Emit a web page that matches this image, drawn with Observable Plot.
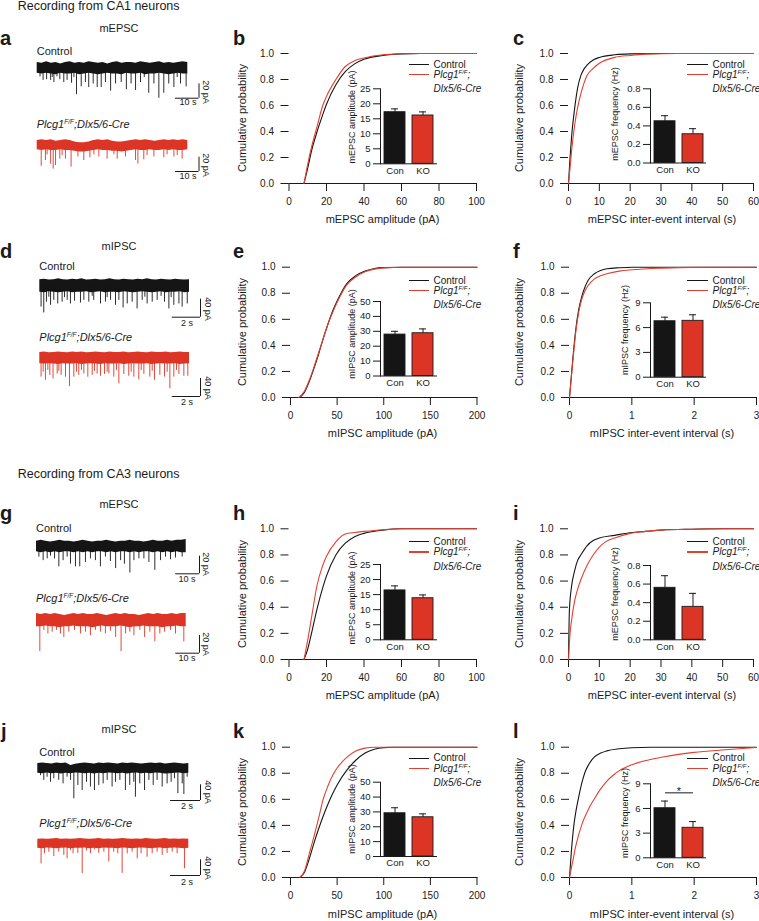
<!DOCTYPE html>
<html><head><meta charset="utf-8">
<script src="https://cdn.jsdelivr.net/npm/d3@7"></script>
<script src="https://cdn.jsdelivr.net/npm/@observablehq/plot@0.6"></script>
<style>
body{margin:0;background:#fff;}
#fig{position:relative;width:759px;height:921px;overflow:hidden;font-family:"Liberation Sans",Arial,Helvetica,sans-serif;color:#1a1a1a;background:#fff;}
#fig > svg{position:absolute;left:0;top:0;}
.t{position:absolute;white-space:nowrap;line-height:1;}
.sup{font-size:6.5px;position:relative;top:-4px;}
.lg{position:absolute;height:1.2px;}
</style></head><body><div id="fig"></div>
<script>
// ---------------- DATA ----------------
const groups = ["Con", "KO"];
const probTicks = [0, 0.2, 0.4, 0.6, 0.8, 1.0];
const epscAmpTicks = [0, 20, 40, 60, 80, 100];
const epscIeiTicks = [0, 10, 20, 30, 40, 50, 60];
const ipscAmpTicks = [0, 50, 100, 150, 200];
const ipscIeiTicks = [0, 1, 2, 3];

// cumulative distributions [value, probability]
const cdfB_ctrl = [[8,0],[10,0.12],[12,0.25],[15,0.4],[18,0.53],[20,0.61],[25,0.76],[30,0.86],[35,0.92],[40,0.955],[50,0.985],[60,0.997],[70,1],[100,1]];
const cdfB_ko   = [[8,0],[10,0.15],[12,0.28],[15,0.44],[18,0.6],[20,0.67],[25,0.8],[30,0.9],[35,0.945],[40,0.965],[50,0.99],[60,0.998],[70,1],[100,1]];
const cdfC_ctrl = [[0,0],[0.5,0.2],[1,0.36],[2,0.58],[3,0.74],[4,0.83],[5,0.88],[6,0.91],[8,0.95],[10,0.97],[15,0.99],[20,0.997],[30,1],[60,1]];
const cdfC_ko   = [[0,0],[0.5,0.12],[1,0.25],[2,0.45],[3,0.59],[4,0.69],[5,0.77],[6,0.83],[8,0.885],[10,0.925],[15,0.97],[20,0.985],[25,0.995],[35,1],[60,1]];
const cdfE_ctrl = [[10,0],[15,0.04],[20,0.12],[25,0.22],[30,0.33],[35,0.45],[40,0.56],[45,0.66],[50,0.74],[60,0.87],[70,0.935],[80,0.97],[90,0.99],[100,0.997],[120,1],[200,1]];
const cdfE_ko   = [[9,0],[15,0.05],[20,0.13],[25,0.23],[30,0.34],[35,0.45],[40,0.56],[45,0.65],[50,0.73],[60,0.86],[70,0.925],[80,0.965],[90,0.985],[100,0.995],[120,1],[200,1]];
const cdfF_ctrl = [[0,0],[0.05,0.28],[0.1,0.52],[0.15,0.68],[0.2,0.78],[0.25,0.85],[0.3,0.9],[0.4,0.95],[0.5,0.975],[0.6,0.988],[0.8,0.996],[1,1],[3,1]];
const cdfF_ko   = [[0,0],[0.05,0.26],[0.1,0.5],[0.15,0.66],[0.2,0.76],[0.25,0.82],[0.3,0.86],[0.4,0.91],[0.5,0.935],[0.6,0.95],[0.8,0.97],[1,0.98],[1.5,0.993],[2,0.999],[2.5,1],[3,1]];
const cdfH_ctrl = [[8,0],[10,0.08],[12,0.2],[15,0.39],[18,0.55],[20,0.64],[25,0.8],[30,0.89],[35,0.94],[40,0.965],[50,0.99],[60,1],[100,1]];
const cdfH_ko   = [[8,0],[10,0.15],[12,0.32],[15,0.57],[18,0.72],[20,0.79],[25,0.9],[30,0.96],[35,0.972],[40,0.98],[50,0.993],[60,1],[100,1]];
const cdfI_ctrl = [[0,0],[0.3,0.38],[1,0.56],[2,0.68],[3,0.76],[4,0.8],[6,0.87],[8,0.91],[10,0.93],[15,0.95],[20,0.97],[25,0.98],[30,0.99],[40,0.997],[50,1],[60,1]];
const cdfI_ko   = [[0,0],[0.5,0.2],[1,0.3],[2,0.45],[3,0.54],[4,0.61],[6,0.72],[8,0.8],[10,0.86],[12,0.9],[15,0.93],[20,0.965],[25,0.98],[30,0.99],[40,0.997],[50,1],[60,1]];
const cdfK_ctrl = [[10,0],[15,0.04],[20,0.14],[25,0.26],[30,0.37],[35,0.47],[40,0.56],[45,0.64],[50,0.71],[60,0.82],[70,0.9],[80,0.955],[90,0.985],[100,0.997],[110,1],[200,1]];
const cdfK_ko   = [[10,0],[15,0.05],[20,0.18],[25,0.31],[30,0.45],[35,0.6],[40,0.7],[45,0.78],[50,0.84],[60,0.92],[70,0.97],[80,0.993],[90,1],[200,1]];
const cdfL_ctrl = [[0,0],[0.03,0.2],[0.07,0.4],[0.1,0.5],[0.14,0.6],[0.2,0.73],[0.25,0.81],[0.3,0.86],[0.4,0.925],[0.5,0.955],[0.6,0.972],[0.8,0.988],[1,0.996],[1.3,1],[3,1]];
const cdfL_ko   = [[0,0],[0.05,0.12],[0.1,0.24],[0.2,0.41],[0.3,0.52],[0.4,0.605],[0.5,0.68],[0.6,0.74],[0.7,0.785],[0.8,0.82],[1,0.865],[1.25,0.9],[1.5,0.925],[1.75,0.945],[2,0.96],[2.5,0.98],[3,0.998]];

// inset bar graphs: mean and SEM for [Con, KO]
const insetB_mean = [17.2, 16.1],  insetB_sem = [1.1, 1.2];
const insetC_mean = [0.45, 0.31],  insetC_sem = [0.06, 0.06];
const insetE_mean = [27.8, 28.7],  insetE_sem = [2.2, 2.9];
const insetF_mean = [6.77, 6.82],  insetF_sem = [0.49, 0.73];
const insetH_mean = [16.4, 13.8],  insetH_sem = [1.5, 1.1];
const insetI_mean = [0.56, 0.355], insetI_sem = [0.13, 0.145];
const insetK_mean = [29.1, 26.4],  insetK_sem = [3.7, 2.3];
const insetL_mean = [6.03, 3.65],  insetL_sem = [0.87, 0.75];
const insetL_sig = {from: "Con", to: "KO", level: 7.9, text: "*"};
const ampTicksE = [0, 5, 10, 15, 20, 25];
const freqTicksE = [0, 0.2, 0.4, 0.6, 0.8];
const ampTicksI = [0, 10, 20, 30, 40, 50];
const freqTicksI = [0, 3, 6, 9];

// example traces: duration (s), scale bars, noise envelope (pA), events [time s, peak pA]
const traceDurA = 64, traceDurD = 10.6, traceDurG = 63, traceDurJ = 10.1;
const scaleBarEPSC = {time: 10, amp: 20, timeLabel: "10 s", ampLabel: "20 pA"};
const scaleBarIPSC = {time: 2, amp: 40, timeLabel: "2 s", ampLabel: "40 pA"};

const traceA_ctrl_hi = [8,7,9,7,8,6,8,9,7,8,7,9,8,7,8,6,8,9,7,8,8,7,9,8,7,8,9,7,8,7,8,9,8];
const traceA_ctrl_lo = [-7,-8,-7,-8,-9,-7,-8,-8,-7,-9,-8,-7,-8,-9,-8,-7,-8,-8,-9,-7,-8,-8,-7,-9,-8,-8,-7,-8,-9,-8,-7,-8,-8];
const traceA_ctrl_events = [[1.2,-12],[2.5,-17],[4.0,-16],[5.7,-17],[6.4,-13],[7.1,-20],[8.4,-12],[9.6,-16],[11.3,-20],[12.7,-17],[14.6,-21],[15.6,-13],[16.7,-37],[18.7,-26],[20.5,-20],[21.9,-27],[23.8,-22],[25.5,-27],[27.2,-27],[29.0,-20],[31.2,-32],[33.3,-22],[35.7,-20],[37.9,-30],[39.9,-22],[41.8,-31],[43.9,-20],[45.5,-13],[47.4,-35],[49.6,-22],[51.7,-42],[53.8,-35],[55.9,-22],[58.1,-27],[59.5,-13],[60.9,-22],[63.3,-26]];
const traceA_ko_hi = [7,8,7,8,6,7,8,7,5,4,4,5,7,8,7,8,6,5,5,6,7,8,7,8,7,6,7,8,7,8,7,8,7];
const traceA_ko_lo = [-6,-7,-6,-7,-7,-6,-7,-7,-8,-9,-9,-8,-7,-6,-7,-7,-8,-8,-9,-8,-7,-6,-7,-7,-6,-7,-7,-6,-7,-6,-7,-7,-6];
const traceA_ko_events = [[1.7,-29],[3.5,-21],[4.2,-13],[5.7,-26],[6.8,-33],[7.8,-28],[9.6,-19],[10.6,-14],[12.0,-19],[14.4,-30],[17.3,-16],[19.8,-21],[22.4,-17],[24.1,-13],[26.2,-16],[29.7,-19],[32.6,-13],[34.0,-19],[37.5,-16],[41.8,-21],[42.8,-26],[45.3,-20],[46.7,-14],[49.6,-16],[53.8,-17],[55.2,-13],[58.1,-16],[59.5,-14],[61.6,-19]];

const traceD_ctrl_hi = [13,14,12,13,15,13,12,14,13,15,12,13,14,12,13,15,13,12,14,13,12,14,13,15,13,12,14,13,12,14,13,12,13];
const traceD_ctrl_lo = [-15,-16,-14,-15,-16,-15,-14,-16,-15,-15,-14,-16,-15,-14,-16,-15,-15,-16,-14,-15,-16,-15,-14,-15,-16,-15,-14,-16,-15,-15,-14,-16,-15];
const traceD_ctrl_events = [[0.09,-48],[0.28,-61],[0.47,-37],[0.64,-26],[0.76,-44],[0.99,-33],[1.27,-41],[1.58,-37],[1.75,-27],[1.94,-33],[2.17,-41],[2.46,-35],[2.88,-39],[3.12,-33],[3.47,-37],[3.71,-24],[3.82,-33],[4.30,-41],[4.65,-37],[4.77,-27],[5.01,-33],[5.36,-44],[5.60,-33],[5.90,-50],[6.19,-41],[6.54,-37],[6.89,-52],[7.25,-33],[7.44,-26],[7.60,-41],[7.96,-37],[8.31,-33],[8.59,-24],[8.83,-37],[9.14,-52],[9.30,-27],[9.49,-44],[9.85,-41],[10.08,-48],[10.44,-41]];
const traceD_ko_hi = [12,13,11,12,13,12,11,13,12,13,11,12,13,12,11,13,12,12,13,11,12,13,12,11,13,12,12,13,11,12,13,12,12];
const traceD_ko_lo = [-13,-14,-13,-14,-15,-13,-14,-14,-13,-15,-14,-13,-14,-15,-13,-14,-14,-13,-15,-14,-13,-14,-14,-13,-15,-14,-13,-14,-14,-13,-15,-14,-13];
const traceD_ko_events = [[0.09,-43],[0.24,-32],[0.40,-50],[0.57,-28],[0.71,-39],[0.94,-47],[1.23,-36],[1.35,-30],[1.51,-39],[1.82,-43],[2.10,-64],[2.41,-43],[2.60,-32],[2.76,-39],[2.95,-28],[3.12,-36],[3.40,-43],[3.71,-39],[3.87,-30],[4.06,-36],[4.30,-41],[4.58,-37],[4.77,-32],[4.89,-36],[5.24,-43],[5.43,-28],[5.60,-58],[5.95,-37],[6.30,-41],[6.47,-32],[6.66,-43],[7.01,-49],[7.18,-28],[7.37,-37],[7.79,-43],[7.96,-30],[8.12,-50],[8.50,-39],[8.83,-43],[9.02,-32],[9.21,-69],[9.49,-43],[9.68,-28],[9.85,-37],[10.20,-41],[10.48,-41]];

const traceG_ctrl_hi = [6,7,6,5,6,7,6,6,5,6,7,6,5,6,6,7,6,5,6,6,7,6,6,5,6,7,6,6,7,6,7,7,8];
const traceG_ctrl_lo = [-6,-7,-6,-7,-6,-7,-6,-6,-7,-6,-7,-6,-7,-6,-6,-7,-6,-7,-6,-6,-7,-6,-7,-6,-6,-7,-6,-7,-6,-7,-6,-7,-7];
const traceG_ctrl_events = [[1.0,-12],[2.8,-16],[4.5,-14],[5.9,-11],[7.6,-14],[9.4,-23],[11.2,-16],[12.9,-12],[14.3,-20],[16.4,-23],[18.2,-23],[20.6,-18],[22.7,-14],[24.8,-16],[26.9,-23],[29.0,-12],[31.1,-17],[33.3,-25],[35.4,-16],[37.0,-20],[39.3,-30],[41.0,-16],[43.1,-14],[45.2,-14],[47.3,-18],[49.8,-27],[52.2,-16],[54.3,-12],[56.4,-15],[58.5,-13],[61.3,-12]];
const traceG_ko_hi = [7,6,7,6,7,6,5,6,7,6,7,6,6,7,6,5,6,7,6,7,6,6,5,6,7,6,7,6,6,7,6,7,7];
const traceG_ko_lo = [-8,-8,-7,-8,-8,-9,-8,-8,-7,-8,-8,-8,-9,-8,-7,-8,-8,-8,-7,-8,-9,-8,-8,-7,-8,-8,-8,-9,-8,-8,-7,-8,-8];
const traceG_ko_events = [[1.4,-36],[3.1,-12],[4.8,-16],[6.6,-14],[8.4,-12],[10.1,-16],[11.5,-20],[13.6,-14],[16.0,-12],[18.5,-16],[20.6,-14],[22.7,-18],[24.8,-12],[26.9,-14],[29.0,-16],[31.1,-13],[33.3,-20],[35.6,-36],[37.5,-16],[39.3,-14],[41.0,-18],[43.5,-12],[45.5,-20],[47.7,-14],[49.8,-25],[51.9,-16],[53.9,-14],[56.4,-12],[58.5,-16],[62.0,-25]];

const traceJ_ctrl_hi = [11,12,11,10,12,11,12,6,9,11,12,11,10,12,11,12,11,10,12,11,12,11,10,11,12,11,12,10,11,12,11,10,11];
const traceJ_ctrl_lo = [-14,-15,-13,-15,-14,-16,-14,-15,-13,-14,-15,-14,-16,-14,-15,-13,-14,-15,-14,-16,-14,-13,-15,-14,-15,-13,-14,-16,-15,-14,-13,-15,-14];
const traceJ_ctrl_events = [[0.18,-20],[0.40,-32],[0.62,-24],[0.85,-37],[1.07,-28],[1.40,-32],[1.69,-41],[1.96,-24],[2.19,-32],[2.41,-79],[2.68,-45],[2.97,-58],[3.26,-37],[3.52,-49],[3.79,-58],[4.08,-45],[4.37,-41],[4.64,-32],[4.97,-49],[5.20,-37],[5.49,-32],[5.86,-58],[6.15,-45],[6.42,-37],[6.53,-75],[6.82,-41],[7.14,-58],[7.43,-32],[7.72,-45],[7.98,-32],[8.32,-49],[8.65,-41],[8.92,-37],[9.14,-28],[9.37,-66],[9.66,-41],[9.77,-68],[9.99,-24]];
const traceJ_ko_hi = [10,11,10,11,12,10,11,10,11,12,11,10,11,12,10,11,10,11,12,11,10,11,10,12,11,10,11,12,10,11,10,11,10];
const traceJ_ko_lo = [-13,-14,-12,-13,-14,-13,-12,-14,-13,-13,-12,-14,-13,-14,-12,-13,-13,-14,-12,-13,-14,-13,-12,-13,-14,-13,-12,-14,-13,-12,-13,-14,-13];
const traceJ_ko_events = [[0.22,-53],[0.45,-27],[0.74,-23],[1.07,-34],[1.40,-23],[1.74,-31],[1.96,-40],[2.19,-19],[2.36,-27],[2.68,-26],[2.97,-78],[3.26,-20],[3.52,-27],[3.79,-17],[4.08,-26],[4.42,-23],[4.75,-48],[5.08,-23],[5.35,-27],[5.64,-77],[5.98,-27],[6.31,-23],[6.65,-40],[6.91,-27],[7.31,-36],[7.65,-27],[7.98,-23],[8.32,-31],[8.65,-26],[8.99,-23],[9.32,-27],[9.81,-65]];

// ---------------- STYLE / LAYOUT ----------------
const W = 759, H = 921;
const FONT = '"Liberation Sans", Arial, Helvetica, sans-serif';
const BLACK = "#151515", RED = "#dc3425", RED_LINE = "#e2402f", INK = "#1a1a1a";
const fig = document.getElementById("fig");

function framePlot(frame, opts, fontSize = 10) {
  const [x0, x1, y0, y1] = frame;
  const p = Plot.plot({
    width: W, height: H,
    marginLeft: x0, marginRight: W - x1, marginTop: y0, marginBottom: H - y1,
    style: {background: "transparent", overflow: "visible", fontFamily: FONT, fontSize: fontSize + "px", color: INK},
    ...opts
  });
  fig.appendChild(p);
}
const rows = arr => arr.map(([x, y]) => ({x, y}));

function cdfPanel(frame, domain, ticks, ctrl, ko) {
  framePlot(frame, {
    x: {domain, ticks, tickFormat: d => String(d), tickSize: 8, tickPadding: 6, line: true, label: null},
    y: {domain: [0, 1], ticks: probTicks, tickFormat: d3.format(".1f"), tickSize: 8, tickPadding: 7, label: null},
    marks: [
      Plot.line(rows(ctrl), {x: "x", y: "y", stroke: BLACK, strokeWidth: 1.1, curve: "monotone-x"}),
      Plot.line(rows(ko), {x: "x", y: "y", stroke: RED_LINE, strokeWidth: 1.1, curve: "monotone-x"})
    ]
  });
}

const bandCol2 = {paddingInner: 0.24, paddingOuter: 0.103, align: 0.5};
const bandCol3 = {paddingInner: 0.25, paddingOuter: 0.125, align: 0.57};
function insetPanel(frame, band, ticks, fmt, means, sems, sig) {
  const bars = groups.map((g, i) => ({group: g, mean: means[i], top: means[i] + sems[i], fill: i ? RED : BLACK}));
  const marks = [
    Plot.barY(bars, {x: "group", y: "mean", fill: "fill", stroke: INK, strokeWidth: 0.9}),
    Plot.ruleX(bars, {x: "group", y1: "mean", y2: "top", stroke: INK, strokeWidth: 1}),
    Plot.tickY(bars, {x: "group", y: "top", stroke: INK, strokeWidth: 1, insetLeft: 7, insetRight: 7}),
    Plot.ruleY([0], {stroke: INK})
  ];
  if (sig) {
    marks.push(Plot.link([sig], {x1: "from", x2: "to", y1: "level", y2: "level", stroke: INK, strokeWidth: 1}));
    marks.push(Plot.text([sig], {x: "from", y: "level", text: "text", dx: 14, dy: 2.5, lineAnchor: "bottom", fontSize: 11, fill: INK}));
  }
  framePlot(frame, {
    color: {type: "identity"},
    x: {domain: groups, ...band, tickSize: 0, tickPadding: 3, label: null},
    y: {domain: [0, ticks[ticks.length - 1]], ticks, tickFormat: fmt, tickSize: 7, tickPadding: 3, line: true, label: null},
    marks
  }, 9.5);
}

function tracePanel(g, T, bar, hi, lo, events, color) {
  const top = 25, bottom = 90;
  const frame = [g.x0, g.x1, g.yb - top * g.k, g.yb + bottom * g.k];
  const env = hi.map((h, i) => ({t: i * T / (hi.length - 1), hi: h, lo: lo[i]}));
  const ev = events.map(([t, a]) => ({t, a}));
  const tEnd = (g.sbx - g.x0) / (g.x1 - g.x0) * T;
  const aEnd = -(g.sby - g.yb) / g.k;
  const sb = [{t1: tEnd - bar.time, t2: tEnd, a1: aEnd, a2: aEnd + bar.amp}];
  framePlot(frame, {
    x: {domain: [0, T], axis: null},
    y: {domain: [-bottom, top], axis: null},
    marks: [
      Plot.areaY(env, {x: "t", y1: "lo", y2: "hi", fill: color}),
      Plot.ruleX(ev, {x: "t", y1: 0, y2: "a", stroke: color, strokeWidth: 0.9}),
      Plot.ruleY(sb, {x1: "t1", x2: "t2", y: "a1", stroke: INK, strokeWidth: 1}),
      Plot.ruleX(sb, {x: "t2", y1: "a1", y2: "a2", stroke: INK, strokeWidth: 1})
    ]
  });
}

function label(html, x, y, o = {}) {
  const d = document.createElement("div");
  d.className = "t";
  d.innerHTML = html;
  const size = o.size ?? 11;
  d.style.fontSize = size + "px";
  if (o.bold) d.style.fontWeight = "bold";
  if (o.italic) d.style.fontStyle = "italic";
  d.style.left = x + "px";
  if (o.baseline) {
    d.style.top = (y - 0.8465 * size) + "px";
  } else {
    d.style.top = y + "px";
    const ax = o.anchor === "middle" ? "-50%" : o.anchor === "end" ? "-100%" : "0";
    d.style.transform = o.rotate ? `translate(-50%,-50%) rotate(${o.rotate}deg)` : `translate(${ax},-50%)`;
  }
  fig.appendChild(d);
}
const KO_LABEL = 'Plcg1<span class="sup">F/F</span>;Dlx5/6-Cre';

function legend(lx0, lx1, tx, y) {
  for (const [c, yy] of [[BLACK, y], [RED_LINE, y + 10.3]]) {
    const l = document.createElement("div");
    l.className = "lg";
    l.style.left = lx0 + "px"; l.style.width = (lx1 - lx0) + "px";
    l.style.top = (yy - 0.6) + "px"; l.style.background = c;
    fig.appendChild(l);
  }
  label("Control", tx, y, {size: 10});
  label('Plcg1<span class="sup" style="font-size:6px">F/F</span>;', tx, y + 10.3, {size: 10, italic: true});
  label("Dlx5/6-Cre", tx, y + 24.8, {size: 10, italic: true});
}

// ---------------- TRACES ----------------
const G = {
  aC: {x0: 36.7, x1: 187.3, yb: 67.7, k: 0.717, sbx: 198.5, sby: 97.7},
  aK: {x0: 36.7, x1: 187.3, yb: 145, k: 0.717, sbx: 198.5, sby: 171},
  dC: {x0: 39.3, x1: 189, yb: 285, k: 0.45, sbx: 200, sby: 316.7},
  dK: {x0: 39.3, x1: 189, yb: 357.3, k: 0.45, sbx: 200, sby: 396},
  gC: {x0: 36, x1: 185.7, yb: 546, k: 0.883, sbx: 199, sby: 573.3},
  gK: {x0: 36, x1: 185.7, yb: 619.3, k: 0.883, sbx: 199, sby: 652.7},
  jC: {x0: 37.3, x1: 188.3, yb: 767.3, k: 0.392, sbx: 200, sby: 800},
  jK: {x0: 37.3, x1: 188.3, yb: 842.7, k: 0.392, sbx: 200, sby: 875}
};
tracePanel(G.aC, traceDurA, scaleBarEPSC, traceA_ctrl_hi, traceA_ctrl_lo, traceA_ctrl_events, BLACK);
tracePanel(G.aK, traceDurA, scaleBarEPSC, traceA_ko_hi, traceA_ko_lo, traceA_ko_events, RED);
tracePanel(G.dC, traceDurD, scaleBarIPSC, traceD_ctrl_hi, traceD_ctrl_lo, traceD_ctrl_events, BLACK);
tracePanel(G.dK, traceDurD, scaleBarIPSC, traceD_ko_hi, traceD_ko_lo, traceD_ko_events, RED);
tracePanel(G.gC, traceDurG, scaleBarEPSC, traceG_ctrl_hi, traceG_ctrl_lo, traceG_ctrl_events, BLACK);
tracePanel(G.gK, traceDurG, scaleBarEPSC, traceG_ko_hi, traceG_ko_lo, traceG_ko_events, RED);
tracePanel(G.jC, traceDurJ, scaleBarIPSC, traceJ_ctrl_hi, traceJ_ctrl_lo, traceJ_ctrl_events, BLACK);
tracePanel(G.jK, traceDurJ, scaleBarIPSC, traceJ_ko_hi, traceJ_ko_lo, traceJ_ko_events, RED);

// scale bar labels
const sbLabels = [
  [scaleBarEPSC, 188, 102, 204.7, 91.5], [scaleBarEPSC, 188, 175.5, 204.7, 165],
  [scaleBarIPSC, 187, 322.5, 207.3, 309], [scaleBarIPSC, 187, 402, 207.3, 388],
  [scaleBarEPSC, 187, 578.5, 204.7, 564], [scaleBarEPSC, 187, 658, 204.7, 643.5],
  [scaleBarIPSC, 187, 806, 207.3, 792], [scaleBarIPSC, 187, 881.5, 207.3, 867.5]
];
for (const [sb, tx, ty, ax, ay] of sbLabels) {
  label(sb.timeLabel, tx, ty, {size: 9, anchor: "middle"});
  label(sb.ampLabel, ax, ay, {size: 9, rotate: 90});
}

// ---------------- CDF PANELS ----------------
cdfPanel([288.5, 476, 53, 183], [0, 100], epscAmpTicks, cdfB_ctrl, cdfB_ko);
cdfPanel([568, 753, 53, 183], [0, 60], epscIeiTicks, cdfC_ctrl, cdfC_ko);
cdfPanel([290, 476.5, 266.7, 397], [0, 200], ipscAmpTicks, cdfE_ctrl, cdfE_ko);
cdfPanel([569, 756, 266.7, 397], [0, 3], ipscIeiTicks, cdfF_ctrl, cdfF_ko);
cdfPanel([288.5, 476, 528.3, 659], [0, 100], epscAmpTicks, cdfH_ctrl, cdfH_ko);
cdfPanel([568, 753, 528.3, 659], [0, 60], epscIeiTicks, cdfI_ctrl, cdfI_ko);
cdfPanel([290, 476.5, 746.7, 877], [0, 200], ipscAmpTicks, cdfK_ctrl, cdfK_ko);
cdfPanel([569, 756, 746.7, 877], [0, 3], ipscIeiTicks, cdfL_ctrl, cdfL_ko);

// ---------------- INSETS ----------------
const f1 = d => String(d), f2 = d3.format(".1f");
insetPanel([380, 437, 88.3, 163.3], bandCol2, ampTicksE, f1, insetB_mean, insetB_sem);
insetPanel([650, 706, 88.3, 162.5], bandCol3, freqTicksE, f2, insetC_mean, insetC_sem);
insetPanel([380, 437, 301, 375.5], bandCol2, ampTicksI, f1, insetE_mean, insetE_sem);
insetPanel([650, 706, 302.3, 376.7], bandCol3, freqTicksI, f1, insetF_mean, insetF_sem);
insetPanel([380, 437, 564, 639.3], bandCol2, ampTicksE, f1, insetH_mean, insetH_sem);
insetPanel([650, 706, 565, 639.3], bandCol3, freqTicksE, f2, insetI_mean, insetI_sem);
insetPanel([380, 437, 781.7, 856], bandCol2, ampTicksI, f1, insetK_mean, insetK_sem);
insetPanel([650, 706, 783.3, 857.3], bandCol3, freqTicksI, f1, insetL_mean, insetL_sem, insetL_sig);

// ---------------- TEXT ----------------
label("Recording from CA1 neurons", 17.7, 6, {size: 12.5});
label("Recording from CA3 neurons", 17.7, 474, {size: 12.5});
const letters = [["a",0,45],["b",233,45],["c",513,45],["d",0,257.5],["e",233,257.5],["f",513,257.5],
  ["g",0,520],["h",233,520],["i",513,520],["j",1,738.3],["k",233,738.3],["l",513,738.3]];
for (const [s, x, y] of letters) label(s, x, y, {size: 20, bold: true, baseline: true});

const rowsText = [
  {kind: "mEPSC", cy: 27.7, cx: 36.7, ctrlY: 50.7, koY: 124.3},
  {kind: "mIPSC", cy: 246, cx: 39.3, ctrlY: 266, koY: 336.7},
  {kind: "mEPSC", cy: 504.3, cx: 36, ctrlY: 528.3, koY: 598.3},
  {kind: "mIPSC", cy: 729.3, cx: 39.3, ctrlY: 752.3, koY: 823.3}
];
for (const r of rowsText) {
  label(r.kind, 119, r.cy, {anchor: "middle"});
  label("Control", r.cx, r.ctrlY);
  label(KO_LABEL, r.cx, r.koY, {italic: true});
}

const panelRows = [
  {kind: "mEPSC", ctr: 118, xt: 218.5, legY: 64.5, insetTitleY: [117, 114]},
  {kind: "mIPSC", ctr: 332, xt: 433, legY: 280.5, insetTitleY: [334, 330]},
  {kind: "mEPSC", ctr: 594, xt: 695, legY: 541.7, insetTitleY: [597.5, 594]},
  {kind: "mIPSC", ctr: 812, xt: 914, legY: 758.3, insetTitleY: [809, 813]}
];
for (const r of panelRows) {
  label("Cumulative probability", 242, r.ctr, {rotate: -90});
  label("Cumulative probability", 519, r.ctr, {rotate: -90});
  label(`${r.kind} amplitude (pA)`, 382.5, r.xt, {anchor: "middle"});
  label(`${r.kind} inter-event interval (s)`, 662, r.xt, {anchor: "middle"});
  legend(409, 429, 433.5, r.legY);
  legend(687, 708, 712.5, r.legY);
  const fx = r.kind === "mEPSC" ? 615 : 625;
  label(`${r.kind} amplitude (pA)`, 351.7, r.insetTitleY[0], {size: 9, rotate: -90});
  label(`${r.kind} frequency (Hz)`, fx, r.insetTitleY[1], {size: 9, rotate: -90});
}
</script></body></html>
